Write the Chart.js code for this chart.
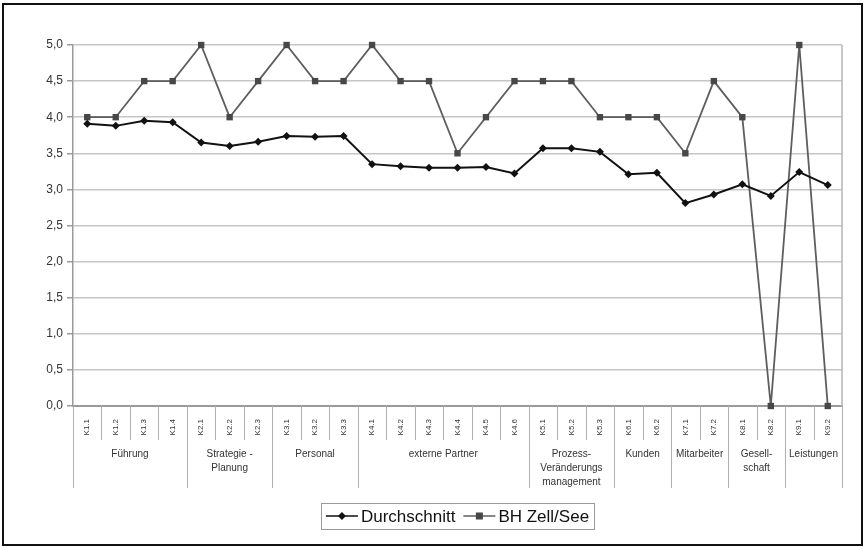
<!DOCTYPE html>
<html>
<head>
<meta charset="utf-8">
<script src="https://cdn.jsdelivr.net/npm/chart.js@4/dist/chart.umd.min.js"></script>
<style>
  html, body { margin: 0; padding: 0; background: #fff; }
  #wrap { width: 866px; height: 547px; position: relative; }
</style>
</head>
<body>
<div id="wrap"><canvas id="c" width="866" height="547"></canvas></div>
<script>
// Criteria (K-codes) along the x axis
const categories = [
  'K1.1','K1.2','K1.3','K1.4',
  'K2.1','K2.2','K2.3',
  'K3.1','K3.2','K3.3',
  'K4.1','K4.2','K4.3','K4.4','K4.5','K4.6',
  'K5.1','K5.2','K5.3',
  'K6.1','K6.2',
  'K7.1','K7.2',
  'K8.1','K8.2',
  'K9.1','K9.2'
];

// Criterion groups: label lines and number of criteria in each group
const groupLabels = [
  ['Führung'],
  ['Strategie -', 'Planung'],
  ['Personal'],
  ['externe Partner'],
  ['Prozess-', 'Veränderungs', 'management'],
  ['Kunden'],
  ['Mitarbeiter'],
  ['Gesell-', 'schaft'],
  ['Leistungen']
];
const groupSizes = [4, 3, 3, 6, 3, 2, 2, 2, 2];

// Series values
const durchschnitt = [
  3.91, 3.88, 3.95, 3.93,
  3.65, 3.60, 3.66,
  3.74, 3.73, 3.74,
  3.35, 3.32, 3.30, 3.30, 3.31, 3.22,
  3.57, 3.57, 3.52,
  3.21, 3.23,
  2.81, 2.93,
  3.07, 2.91,
  3.24, 3.06
];
const bhZellSee = [
  4.0, 4.0, 4.5, 4.5,
  5.0, 4.0, 4.5,
  5.0, 4.5, 4.5,
  5.0, 4.5, 4.5, 3.5, 4.0, 4.5,
  4.5, 4.5, 4.0,
  4.0, 4.0,
  3.5, 4.5,
  4.0, 0.0,
  5.0, 0.0
];

const seriesNames = ['Durchschnitt', 'BH Zell/See'];

const FONT = "'Liberation Sans', Arial, sans-serif";

function drawMarker(ctx, style, x, y, r, fill) {
  ctx.save();
  ctx.fillStyle = fill;
  ctx.beginPath();
  if (style === 'rect') {
    ctx.rect(x - r, y - r, 2 * r, 2 * r);
  } else {
    ctx.moveTo(x, y - r); ctx.lineTo(x + r, y); ctx.lineTo(x, y + r); ctx.lineTo(x - r, y); ctx.closePath();
  }
  ctx.fill();
  ctx.restore();
}

// Group dividers and group names under the category labels, plot frame, outer border and legend
const decorations = {
  id: 'decorations',
  afterDraw(chart) {
    const ctx = chart.ctx;
    const xs = chart.scales.x;
    const ca = chart.chartArea;
    const half = (xs.getPixelForValue(1) - xs.getPixelForValue(0)) / 2;

    ctx.save();
    // right edge of the plot area
    ctx.strokeStyle = '#b4b4b4';
    ctx.lineWidth = 1.5;
    ctx.beginPath();
    ctx.moveTo(ca.right, ca.top);
    ctx.lineTo(ca.right, ca.bottom);
    ctx.stroke();

    // dividers between categories (longer at group boundaries)
    const groupEdges = new Set([0]);
    let acc = 0;
    groupSizes.forEach(n => { acc += n; groupEdges.add(acc); });
    ctx.strokeStyle = '#b0b0b0';
    ctx.lineWidth = 1;
    for (let i = 0; i <= categories.length; i++) {
      const x = Math.round(xs.getPixelForValue(i) - half) + 0.5;
      const yEnd = groupEdges.has(i) ? ca.bottom + 82 : ca.bottom + 34;
      ctx.beginPath();
      ctx.moveTo(x, ca.bottom);
      ctx.lineTo(x, yEnd);
      ctx.stroke();
    }

    // group names
    ctx.fillStyle = '#333';
    ctx.font = '10px ' + FONT;
    ctx.textAlign = 'center';
    ctx.textBaseline = 'middle';
    let start = 0;
    groupSizes.forEach((n, g) => {
      const x0 = xs.getPixelForValue(start) - half;
      const x1 = xs.getPixelForValue(start + n - 1) + half;
      const cx = (x0 + x1) / 2;
      groupLabels[g].forEach((line, k) => {
        ctx.fillText(line, cx, ca.bottom + 48 + k * 14);
      });
      start += n;
    });

    // legend
    const ds = chart.data.datasets;
    ctx.font = '17px ' + FONT;
    const sample = 32, gapText = 3, gapItem = 8, pad = 5;
    const widths = ds.map(d => ctx.measureText(d.label).width);
    const total = pad * 2 + widths.reduce((a, w) => a + sample + gapText + w, 0) + gapItem;
    const lx = (ca.left + ca.right) / 2 - total / 2;
    const ly = 516;
    ctx.strokeStyle = '#9a9a9a';
    ctx.lineWidth = 1;
    ctx.strokeRect(Math.round(lx) + 0.5, ly - 13 + 0.5, Math.round(total), 26);
    let x = lx + pad;
    ds.forEach((d, i) => {
      ctx.strokeStyle = d.borderColor;
      ctx.lineWidth = 1.5;
      ctx.beginPath();
      ctx.moveTo(x, ly);
      ctx.lineTo(x + sample, ly);
      ctx.stroke();
      drawMarker(ctx, d.pointStyle, x + sample / 2, ly, d.pointStyle === 'rect' ? 3.5 : 4, d.pointBackgroundColor);
      ctx.fillStyle = '#111';
      ctx.textAlign = 'left';
      ctx.textBaseline = 'middle';
      ctx.fillText(d.label, x + sample + gapText, ly + 1);
      x += sample + gapText + widths[i] + gapItem;
    });

    // outer border
    ctx.strokeStyle = '#111';
    ctx.lineWidth = 2;
    ctx.strokeRect(3, 4, 859, 541);
    ctx.restore();
  }
};

new Chart(document.getElementById('c'), {
  type: 'line',
  data: {
    labels: categories,
    datasets: [
      {
        label: seriesNames[0],
        data: durchschnitt,
        borderColor: '#111',
        borderWidth: 2,
        pointStyle: 'rectRot',
        pointRadius: 4,
        pointBackgroundColor: '#111',
        pointBorderColor: '#111',
        pointBorderWidth: 0,
        tension: 0
      },
      {
        label: seriesNames[1],
        data: bhZellSee,
        borderColor: '#5e5e5e',
        borderWidth: 1.8,
        pointStyle: 'rect',
        pointRadius: 4.5,
        pointBackgroundColor: '#474747',
        pointBorderColor: '#474747',
        pointBorderWidth: 0,
        tension: 0
      }
    ]
  },
  options: {
    responsive: false,
    animation: false,
    clip: false,
    layout: { padding: { left: 0, right: 24, top: 45, bottom: 0 } },
    plugins: {
      legend: { display: false },
      tooltip: { enabled: false }
    },
    scales: {
      x: {
        offset: true,
        grid: { display: false },
        border: { display: true, color: '#9a9a9a', width: 2 },
        ticks: {
          autoSkip: false,
          minRotation: 90,
          maxRotation: 90,
          padding: 5,
          color: '#333',
          font: { family: FONT, size: 8 }
        },
        afterFit(scale) { scale.height = 141; }
      },
      y: {
        min: 0,
        max: 5,
        ticks: {
          stepSize: 0.5,
          padding: 4,
          color: '#333',
          font: { family: FONT, size: 12 },
          callback: v => v.toFixed(1).replace('.', ',')
        },
        grid: { color: '#c6c6c6', lineWidth: 1.5, drawTicks: true, tickLength: 6, tickColor: '#9a9a9a' },
        border: { display: true, color: '#9a9a9a', width: 1.5 },
        afterFit(scale) { scale.width = 73; }
      }
    }
  },
  plugins: [decorations]
});
</script>
</body>
</html>
